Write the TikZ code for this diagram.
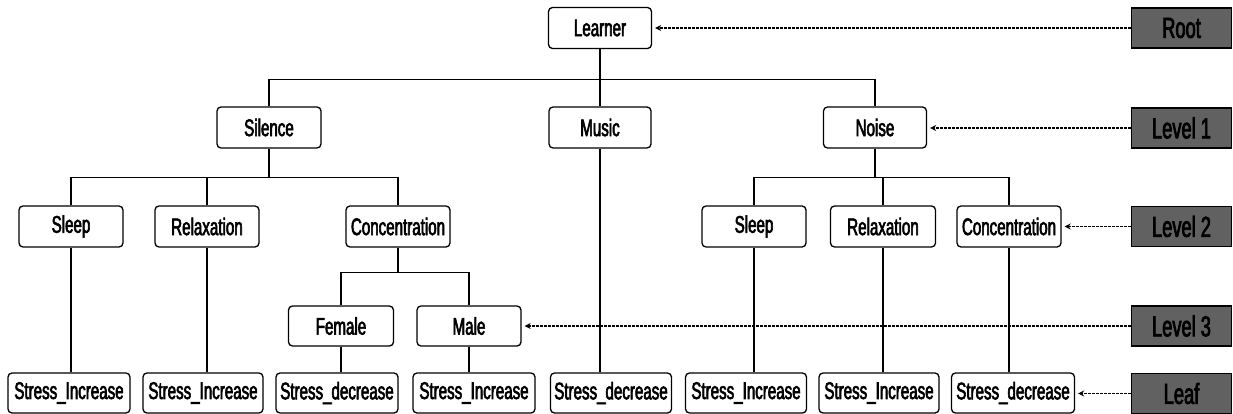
\documentclass[tikz,border=0pt]{standalone}
\usepackage{fontspec}
\setmainfont{Liberation Sans}[FakeStretch=0.63,FakeBold=2.5]
\usetikzlibrary{arrows.meta}
\tikzset{
  tnode/.style={draw=black, line width=1.3pt, rounded corners=4pt, fill=white,
    inner sep=0pt, minimum height=41pt, font=\fontsize{24pt}{26pt}\selectfont},
  lbl/.style={draw=black, line width=1.3pt, fill=black!62, inner sep=0pt,
    minimum width=100pt, minimum height=40pt, font=\fontsize{29pt}{31pt}\selectfont},
  conn/.style={draw=black, line width=1.2pt},
  lvlarrow/.style={draw=black, line width=1.5pt, dash pattern=on 2.5pt off 1.5pt,
    -{Stealth[length=6pt,width=6pt]}, shorten >=3pt}
}
\begin{document}
\begin{tikzpicture}[x=1pt,y=-1pt]
\useasboundingbox (0,0) rectangle (1233,414);
% level 0
\node[tnode, minimum width=103pt] (learner) at (600,28) {Learner};
% level 1
\node[tnode, minimum width=104pt] (silence) at (269,127.5) {Silence};
\node[tnode, minimum width=102pt] (music) at (600,127.5) {Music};
\node[tnode, minimum width=103pt] (noise) at (875,127.5) {Noise};
% level 2
\node[tnode, minimum width=104pt] (sleepA) at (71,226.5) {Sleep};
\node[tnode, minimum width=104pt] (relaxA) at (207,226.5) {Relaxation};
\node[tnode, minimum width=104pt] (concA) at (398,226.5) {Concentration};
\node[tnode, minimum width=104pt] (sleepB) at (754,226.5) {Sleep};
\node[tnode, minimum width=105pt] (relaxB) at (883,226.5) {Relaxation};
\node[tnode, minimum width=104pt] (concB) at (1009,226.5) {Concentration};
% level 3
\node[tnode, minimum width=105pt, minimum height=40pt] (female) at (341,326) {Female};
\node[tnode, minimum width=104pt, minimum height=40pt] (male) at (469,326) {Male};
% leaves
\node[tnode, minimum width=122pt, minimum height=40pt] (leaf1) at (69,393) {Stress\_Increase};
\node[tnode, minimum width=120pt, minimum height=40pt] (leaf2) at (203,393) {Stress\_Increase};
\node[tnode, minimum width=122pt, minimum height=40pt] (leaf3) at (337,393) {Stress\_decrease};
\node[tnode, minimum width=122pt, minimum height=40pt] (leaf4) at (474,393) {Stress\_Increase};
\node[tnode, minimum width=121pt, minimum height=40pt] (leaf5) at (611,393) {Stress\_decrease};
\node[tnode, minimum width=121pt, minimum height=40pt] (leaf6) at (746,393) {Stress\_Increase};
\node[tnode, minimum width=120pt, minimum height=40pt] (leaf7) at (879,393) {Stress\_Increase};
\node[tnode, minimum width=123pt, minimum height=40pt] (leaf8) at (1013,393) {Stress\_decrease};
% labels
\node[lbl] (root) at (1181.5,28) {Root};
\node[lbl] (lvl1) at (1181.5,128) {Level 1};
\node[lbl] (lvl2) at (1181.5,226.5) {Level 2};
\node[lbl] (lvl3) at (1181.5,326) {Level 3};
\node[lbl] (leaf) at (1181.5,393.5) {Leaf};
% tree connectors
\draw[conn] (learner.south) -- ++(0,30) -| (silence.north);
\draw[conn] (learner.south) -- (music.north);
\draw[conn] (learner.south) -- ++(0,30) -| (noise.north);
\draw[conn] (silence.south) -- ++(0,28.5) -| (sleepA.north);
\draw[conn] (silence.south) -- ++(0,28.5) -| (relaxA.north);
\draw[conn] (silence.south) -- ++(0,28.5) -| (concA.north);
\draw[conn] (noise.south) -- ++(0,28.5) -| (sleepB.north);
\draw[conn] (noise.south) -- ++(0,28.5) -| (relaxB.north);
\draw[conn] (noise.south) -- ++(0,28.5) -| (concB.north);
\draw[conn] (concA.south) -- ++(0,25) -| (female.north);
\draw[conn] (concA.south) -- ++(0,25) -| (male.north);
\draw[conn] (sleepA.south) -- (sleepA.south |- leaf1.north);
\draw[conn] (relaxA.south) -- (relaxA.south |- leaf2.north);
\draw[conn] (female.south) -- (female.south |- leaf3.north);
\draw[conn] (male.south) -- (male.south |- leaf4.north);
\draw[conn] (music.south) -- (music.south |- leaf5.north);
\draw[conn] (sleepB.south) -- (sleepB.south |- leaf6.north);
\draw[conn] (relaxB.south) -- (relaxB.south |- leaf7.north);
\draw[conn] (concB.south) -- (concB.south |- leaf8.north);
% level arrows
\draw[lvlarrow] (root.west) -- (learner.east);
\draw[lvlarrow] (lvl1.west) -- (noise.east |- lvl1.west);
\draw[lvlarrow] (lvl2.west) -- (concB.east);
\draw[lvlarrow] (lvl3.west) -- (male.east);
\draw[lvlarrow] (leaf.west) -- (leaf8.east |- leaf.west);
\end{tikzpicture}
\end{document}
